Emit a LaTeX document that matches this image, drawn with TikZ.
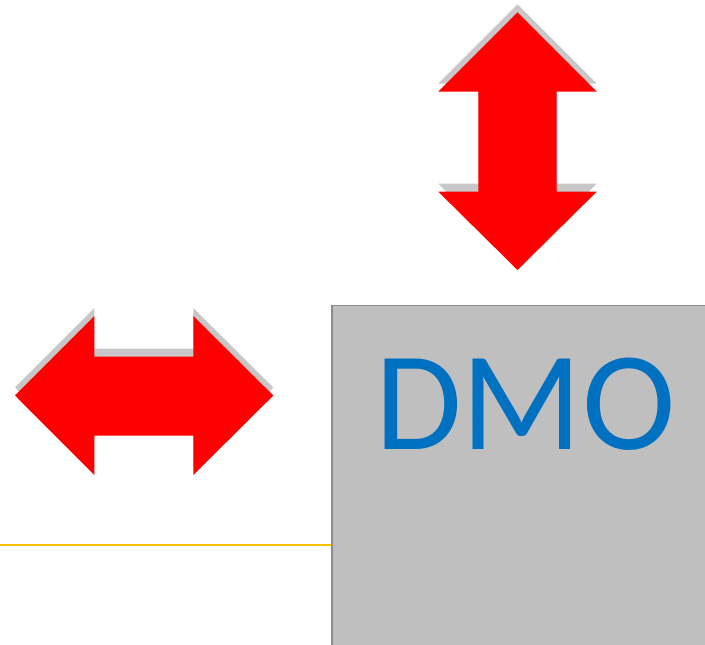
\documentclass[tikz,border=0pt]{standalone}
\usepackage{fontspec}
\setmainfont{Carlito}
\definecolor{arrowred}{HTML}{FF0000}
\definecolor{shadowgray}{HTML}{C8C8C8}
\definecolor{boxgray}{HTML}{BFBFBF}
\definecolor{boxedge}{HTML}{8C8C8C}
\definecolor{dmoblue}{HTML}{0070C0}
\definecolor{lineyellow}{HTML}{FFC000}
\begin{document}
\begin{tikzpicture}[x=1pt,y=1pt,
  arrowfill/.style={fill=arrowred},
  arrowshadow/.style={fill=shadowgray},
  dmobox/.style={draw=boxedge,line width=1.5pt,fill=boxgray,inner sep=0pt,anchor=north west,minimum width=400pt,minimum height=360pt},
  dmolabel/.style={text=dmoblue,font=\fontsize{141}{141}\selectfont,inner sep=0pt,anchor=base},
  linkline/.style={draw=lineyellow,line width=2pt}]
\useasboundingbox (0,0) rectangle (705,645);
\clip (0,0) rectangle (705,645);
% vertical double arrow
\def\varrow{(517.5,632.7) -- (596.7,553.3) -- (556.7,553.3) -- (556.7,453.3) -- (596.7,453.3) -- (517.5,375) -- (438.3,453.3) -- (478.3,453.3) -- (478.3,553.3) -- (438.3,553.3) -- cycle}
\fill[arrowshadow,shift={(0,8)}] \varrow;
\fill[arrowfill] \varrow;
% horizontal double arrow
\def\harrow{(15,249.5) -- (94.3,329) -- (94.3,288.3) -- (193.3,288.3) -- (193.3,329) -- (273.3,249.5) -- (193.3,170) -- (193.3,209.3) -- (94.3,209.3) -- (94.3,170) -- cycle}
\fill[arrowshadow,shift={(0,8)}] \harrow;
\fill[arrowfill] \harrow;
% DMO box
\node[dmobox] (dmo) at (331,340) {};
\node[dmolabel] (dmotext) at (525.5,195) {DMO};
\coordinate (linestart) at (0,100);
\draw[linkline] (linestart) -- (linestart -| dmo.west);
\end{tikzpicture}
\end{document}
